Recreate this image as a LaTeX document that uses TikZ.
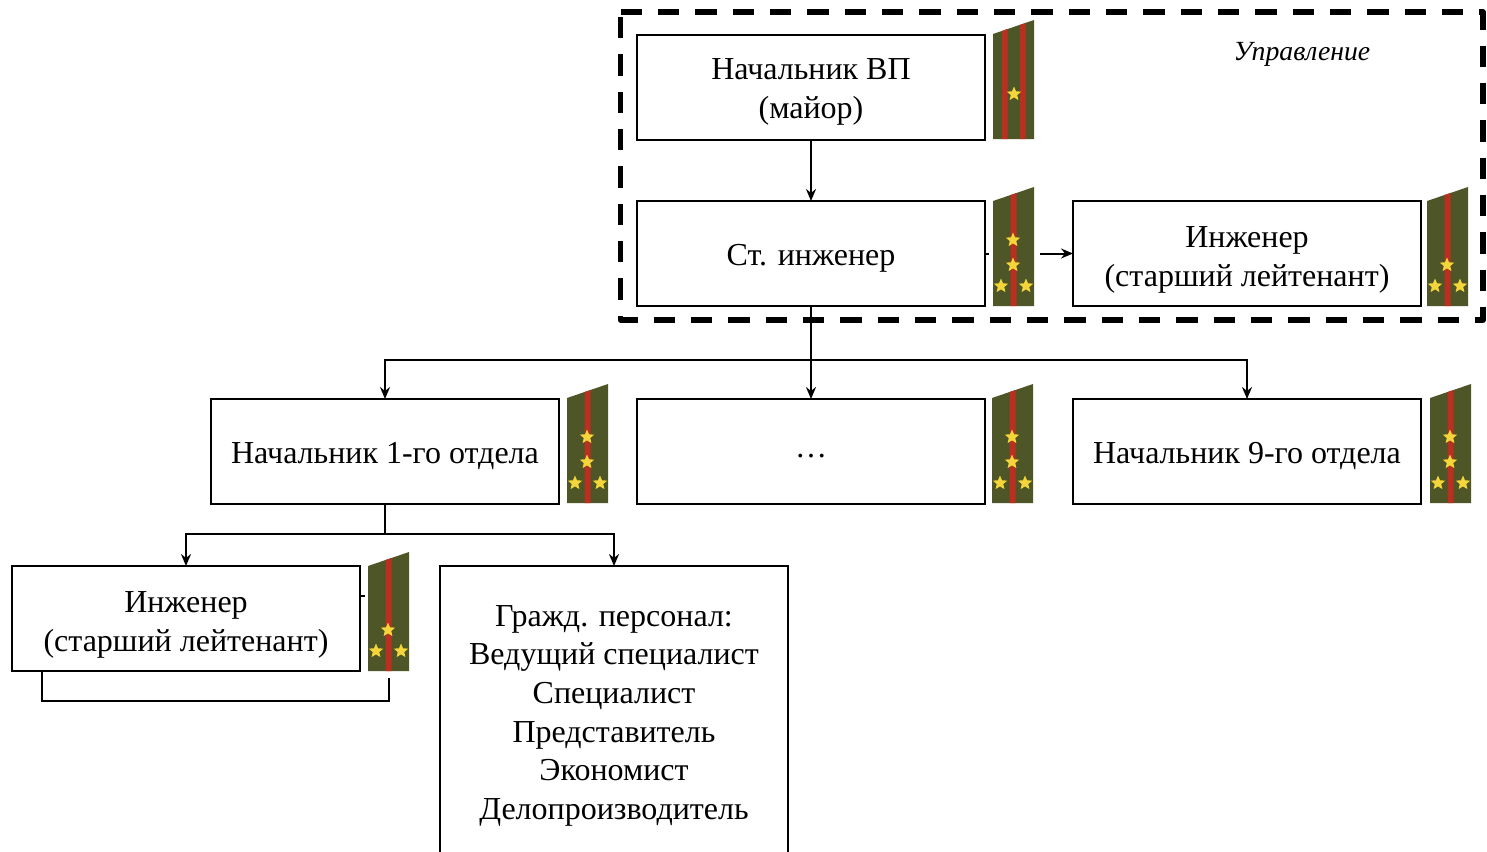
\documentclass[tikz,border=0pt]{standalone}
\usepackage{fontspec}
\setmainfont{Liberation Serif}
\usetikzlibrary{arrows.meta}
\definecolor{strapgreen}{HTML}{4E5526}
\definecolor{strapred}{HTML}{B93020}
\definecolor{strapstar}{HTML}{F4D53A}
\tikzset{
  box/.style={draw=black,line width=1.5pt,fill=white,minimum width=261pt,minimum height=78.75pt,inner sep=0pt,outer sep=0pt},
  lab/.style={yshift=-3.5pt,align=center,inner sep=0pt,font=\fontsize{24}{28.9}\selectfont},
  lablow/.style={lab,yshift=-1.2pt},
  conn/.style={draw=black,line width=1.5pt,-{Stealth[length=9pt,width=7.5pt,inset=3pt]}},
  plain/.style={draw=black,line width=1.5pt},
  trunk/.style={draw=black,line width=2.2pt},
  frame/.style={draw=black,line width=3.8pt,line join=round,dash pattern=on 16pt off 12pt}
}
\newcommand{\starat}[2]{%
  \fill[strapstar] ([shift={(#1,#2)}]-90:7.5)
    -- ([shift={(#1,#2)}]-54:3.4) -- ([shift={(#1,#2)}]-18:7.5)
    -- ([shift={(#1,#2)}]18:3.4) -- ([shift={(#1,#2)}]54:7.5)
    -- ([shift={(#1,#2)}]90:3.4) -- ([shift={(#1,#2)}]126:7.5)
    -- ([shift={(#1,#2)}]162:3.4) -- ([shift={(#1,#2)}]198:7.5)
    -- ([shift={(#1,#2)}]234:3.4) -- cycle;}
\newcommand{\strapbase}[2]{%
  \fill[strapgreen] (#1,#2) -- ++(0,-105) -- ++(41,-14) -- ++(0,119) -- cycle;}
\newcommand{\strapfour}[2]{%
  \strapbase{#1}{#2}
  \fill[strapred] ({#1+17.5},#2) -- ++(0,-111) -- ++(6,-2) -- ++(0,113) -- cycle;
  \starat{#1+20}{#2-66}\starat{#1+20}{#2-41}\starat{#1+8}{#2-20}\starat{#1+33}{#2-20}}
\newcommand{\strapthree}[2]{%
  \strapbase{#1}{#2}
  \fill[strapred] ({#1+17.5},#2) -- ++(0,-111) -- ++(6,-2) -- ++(0,113) -- cycle;
  \starat{#1+20}{#2-41}\starat{#1+8}{#2-20}\starat{#1+33}{#2-20}}
\newcommand{\strapmajor}[2]{%
  \strapbase{#1}{#2}
  \fill[strapred] ({#1+9},#2) -- ++(0,-108) -- ++(5.5,-2) -- ++(0,110) -- cycle;
  \fill[strapred] ({#1+27},#2) -- ++(0,-114) -- ++(5.5,-2) -- ++(0,116) -- cycle;
  \starat{#1+21}{#2-45}}
\begin{document}
\begin{tikzpicture}[x=0.75pt,y=-0.75pt]
\useasboundingbox (0,0) rectangle (1487,851);
\clip (0,0) rectangle (1487,851);
% boxes
\node[box,label={[lab]center:{Начальник ВП\\(майор)}}] (chief) at (811,87.5) {};
\node[box,label={[lab]center:{Ст. инженер}}] (senior) at (811,253.5) {};
\node[box,label={[lablow]center:{Инженер\\(старший лейтенант)}}] (eng) at (1247,253.5) {};
\node[box,label={[lab]center:{Начальник 1-го отдела}}] (dept1) at (385,451.5) {};
\node[box,label={[lab]center:{…}}] (deptx) at (811,451.5) {};
\node[box,label={[lab]center:{Начальник 9-го отдела}}] (dept9) at (1247,451.5) {};
\node[box,label={[lablow]center:{Инженер\\(старший лейтенант)}}] (engb) at (186,618.5) {};
\node[box,minimum height=217.5pt,label={[lab]center:{Гражд. персонал:\\Ведущий специалист\\Специалист\\Представитель\\Экономист\\Делопроизводитель}}] (civil) at (614,711) {};
\node[font=\fontsize{20.8}{24}\selectfont\itshape,inner sep=0pt] (mgmt) at (1302,54) {Управление};
% connectors
\draw[conn] (chief) -- (senior);
\draw[conn] (senior) -- (eng);
\coordinate (bus) at (811,360);
\coordinate (busb) at (385,534);
\draw[trunk] (senior.south) -- (bus);
\draw[conn] (bus) -| (dept1.north);
\draw[conn] (bus) -- (deptx.north);
\draw[conn] (bus) -| (dept9.north);
\draw[trunk] (dept1.south) -- (busb);
\draw[conn] (busb) -| (engb.north);
\draw[conn] (busb) -| (civil.north);
\coordinate (loopa) at (389,596);
\coordinate (loopb) at (389,701);
\coordinate (loopc) at (42,701);
\draw[plain] (engb.east |- loopa) -- (loopa) -- (loopb) -- (loopc) -- (loopc |- engb.south);
% white margins round the straps
\fill[white] (988.5,220) rectangle (1040,290);
\fill[white] (365,545) rectangle (415,678);
% straps
\strapmajor{993}{139}
\strapfour{993}{306}
\strapthree{1427}{306}
\strapfour{567}{503}
\strapfour{992}{503}
\strapfour{1430}{503}
\strapthree{368}{671}
% frame
\draw[frame] (620.5,12) -- (1483,12) -- (1483,320) -- (620.5,320) -- (620.5,12);
\end{tikzpicture}
\end{document}
